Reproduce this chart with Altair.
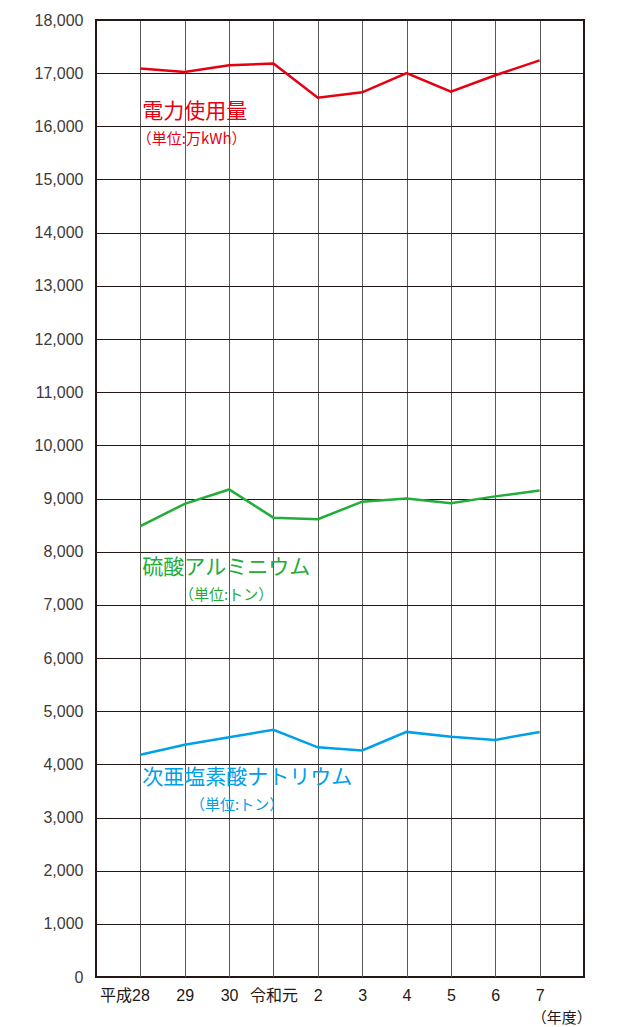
import json
import altair as alt
import pandas as pd

# ---- data ----
years = ["平成28", "29", "30", "令和元", "2", "3", "4", "5", "6", "7"]
electricity = [17090, 17020, 17150, 17180, 16540, 16640, 17000, 16650, 16960, 17240]
alum = [8480, 8900, 9170, 8640, 8610, 8940, 9000, 8910, 9040, 9150]
hypo = [4180, 4370, 4510, 4650, 4320, 4260, 4610, 4520, 4460, 4610]

series_names = ["電力使用量", "硫酸アルミニウム", "次亜塩素酸ナトリウム"]
series_units = ["（単位:万kWh）", "（単位:トン）", "（単位:トン）"]
series_colors = ["#e60012", "#22ac38", "#00a0e9"]
y_ticks = list(range(0, 18001, 1000))

# annotation anchor points (data units)
title_pos = [(1, 16270), (1, 7686), (1, 3745)]
unit_pos = [(0.92, 15760), (1.87, 7180), (2.12, 3230)]

rows = []
for name, vals in zip(series_names, [electricity, alum, hypo]):
    for i, (yr, v) in enumerate(zip(years, vals)):
        rows.append({"series": name, "idx": i + 1, "year": yr, "value": v})
df = pd.DataFrame(rows)

NUM_FONT = "Liberation Sans, Noto Sans CJK JP"
JP_FONT = "Noto Sans CJK JP"
label_expr = json.dumps(years, ensure_ascii=False) + "[datum.value - 1]"

x_scale = alt.Scale(domain=[0, 11], nice=False, zero=False)
y_scale = alt.Scale(domain=[0, 18000], nice=False)

x_axis = alt.Axis(
    values=list(range(1, 11)),
    labelExpr=label_expr,
    grid=True,
    gridColor="#595757",
    gridWidth=1,
    domain=False,
    ticks=False,
    labelPadding=10,
    labelFontSize=16,
    labelFont=NUM_FONT,
    labelColor="#231815",
    labelBaseline="top",
    labelFlush=False,
    labelOverlap=False,
    labelAlign={"condition": {"test": "datum.value == 1", "value": "right"}, "value": "center"},
    labelOffset={"condition": {"test": "datum.value == 1", "value": 9}, "value": 0},
    title=None,
)
y_axis = alt.Axis(
    values=y_ticks,
    format=",.0f",
    grid=True,
    gridColor="#231815",
    gridWidth=1,
    domain=False,
    ticks=False,
    labelPadding=13,
    labelFontSize=16,
    labelFont=NUM_FONT,
    labelColor="#3e3a39",
    title=None,
)

lines = alt.Chart(df).mark_line(strokeWidth=2.5).encode(
    x=alt.X("idx:Q", scale=x_scale, axis=x_axis),
    y=alt.Y("value:Q", scale=y_scale, axis=y_axis),
    color=alt.Color("series:N", scale=alt.Scale(domain=series_names, range=series_colors), legend=None),
)

layers = [lines]
for name, unit, col, (tx, ty), (ux, uy) in zip(series_names, series_units, series_colors, title_pos, unit_pos):
    layers.append(
        alt.Chart().mark_text(align="left", baseline="middle", fontSize=21, font=JP_FONT,
                              color=col, dx=2, text=name)
        .encode(x=alt.datum(tx), y=alt.datum(ty))
    )
    layers.append(
        alt.Chart().mark_text(align="left", baseline="middle", fontSize=15, font=JP_FONT,
                              color=col, text=unit)
        .encode(x=alt.datum(ux), y=alt.datum(uy))
    )

layers.append(
    alt.Chart().mark_text(align="left", baseline="middle", fontSize=15, font=JP_FONT,
                          color="#231815", dx=-8, text="（年度）")
    .encode(x=alt.datum(10), y=alt.value(998))
)

chart = alt.layer(*layers).properties(
    width=488,
    height=957,
    autosize=alt.AutoSizeParams(type="none"),
    padding={"left": 88, "top": 12, "right": 25, "bottom": 50},
).configure_view(stroke="#231815", strokeWidth=2)

chart.save("out.html", embed_options={"renderer": "svg", "actions": False})
